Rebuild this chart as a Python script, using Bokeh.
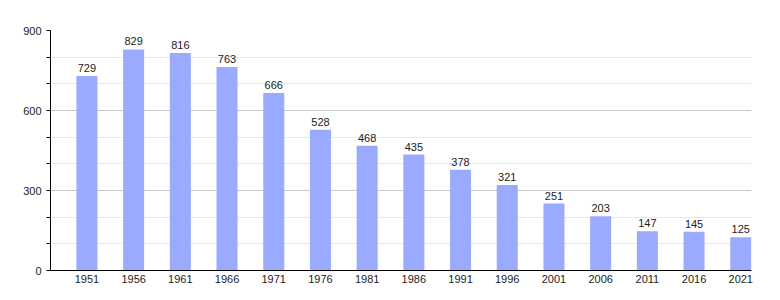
from bokeh.plotting import figure
from bokeh.models import Range1d, FixedTicker, ColumnDataSource
from bokeh.core.properties import value
from bokeh.embed import file_html
from bokeh.resources import INLINE

years = ["1951", "1956", "1961", "1966", "1971", "1976", "1981", "1986",
         "1991", "1996", "2001", "2006", "2011", "2016", "2021"]
population = [729, 829, 816, 763, 666, 528, 468, 435, 378, 321, 251, 203, 147, 145, 125]
y_major_ticks = [0, 300, 600, 900]
y_minor_ticks = [100, 200, 400, 500, 700, 800]

xs = list(range(len(years)))
src = ColumnDataSource(dict(x=xs, pop=population, lbl=[str(v) for v in population]))

p = figure(width=780, height=300, output_backend="svg", toolbar_location=None,
           x_range=Range1d(-0.78, 14.23), y_range=Range1d(0, 900),
           min_border_left=50, min_border_right=29, min_border_top=30, min_border_bottom=30)
p.outline_line_color = None
p.background_fill_color = "white"
p.border_fill_color = "white"

p.vbar(x="x", top="pop", width=0.45, bottom=0, source=src,
       fill_color="#99aaff", line_color=None)
p.text(x="x", y="pop", text="lbl", source=src, y_offset=-4,
       text_align="center", text_baseline="bottom",
       text_font=value("Liberation Sans"), text_font_size="11px", text_color="#222222")

# y axis
p.yaxis.ticker = FixedTicker(ticks=y_major_ticks, minor_ticks=y_minor_ticks)
p.yaxis.axis_line_color = "black"
p.yaxis.major_tick_in = 0
p.yaxis.major_tick_out = 4
p.yaxis.minor_tick_in = 0
p.yaxis.minor_tick_out = 4
p.yaxis.major_tick_line_color = "black"
p.yaxis.minor_tick_line_color = "black"
p.yaxis.major_label_standoff = 5
p.yaxis.major_label_text_font = "Liberation Sans"
p.yaxis.major_label_text_font_size = "11px"
p.yaxis.major_label_text_color = "#222222"

p.ygrid.grid_line_color = "#c8c8c8"
p.ygrid.minor_grid_line_color = "#e8e8e8"
p.xgrid.grid_line_color = None

# x axis
p.xaxis.ticker = FixedTicker(ticks=xs)
p.xaxis.major_label_overrides = {i: y for i, y in enumerate(years)}
p.xaxis.axis_line_color = "black"
p.xaxis.major_tick_in = 0
p.xaxis.major_tick_out = 0
p.xaxis.minor_tick_line_color = None
p.xaxis.major_label_standoff = 4
p.xaxis.major_label_text_font = "Liberation Sans"
p.xaxis.major_label_text_font_size = "11px"
p.xaxis.major_label_text_color = "#222222"

open("out.html", "w").write(file_html(p, INLINE))
